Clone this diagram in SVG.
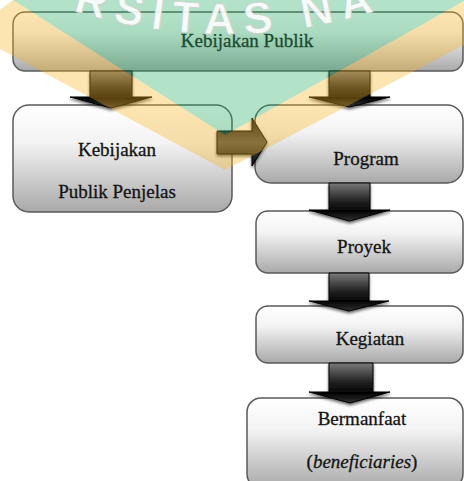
<svg xmlns="http://www.w3.org/2000/svg" width="464" height="481" viewBox="0 0 464 481">
<defs>
  <linearGradient id="boxGrad" x1="0" y1="0" x2="0" y2="1">
    <stop offset="0" stop-color="#ffffff"/>
    <stop offset="0.35" stop-color="#f3f3f3"/>
    <stop offset="1" stop-color="#a9a9a9"/>
  </linearGradient>
  <linearGradient id="arrowDown" x1="0" y1="0" x2="0" y2="1">
    <stop offset="0" stop-color="#7a7a7a"/>
    <stop offset="0.45" stop-color="#262626"/>
    <stop offset="0.75" stop-color="#030303"/>
    <stop offset="1" stop-color="#333333"/>
  </linearGradient>
  <linearGradient id="arrowSide" x1="0" y1="0" x2="0" y2="1">
    <stop offset="0" stop-color="#0e0e0e"/>
    <stop offset="0.5" stop-color="#505050"/>
    <stop offset="1" stop-color="#0a0a0a"/>
  </linearGradient>
  <filter id="shadow" x="-30%" y="-30%" width="160%" height="160%">
    <feGaussianBlur in="SourceAlpha" stdDeviation="1.5"/>
    <feOffset dx="0" dy="2" result="b"/>
    <feComponentTransfer><feFuncA type="linear" slope="0.6"/></feComponentTransfer>
    <feMerge><feMergeNode/><feMergeNode in="SourceGraphic"/></feMerge>
  </filter>
  <path id="wmArc" d="M 40,-1.5 A 500 500 0 0 0 420,-5.6"/>
</defs>
<style>
  .box { fill: url(#boxGrad); stroke: #5a5a5a; stroke-width: 1.5; }
  .lbl { font-family: "Liberation Serif", "Times New Roman", serif; font-size: 19px; fill: #141414; stroke: #141414; stroke-width: 0.3; text-anchor: middle; }
  .arr { fill: url(#arrowDown); stroke: #000; stroke-width: 1; filter: url(#shadow); }
  .arrh { fill: url(#arrowSide); stroke: #000; stroke-width: 1; filter: url(#shadow); }
  .wm { font-family: "Liberation Sans", Arial, sans-serif; font-size: 44px; font-weight: bold; letter-spacing: 9px; fill: #ffffff; fill-opacity: 0.88; stroke: #d0d0d0; stroke-width: 0.8; }
</style>

<g id="node-kebijakan-publik">
  <rect class="box" x="13" y="12" width="450" height="59" rx="12"/>
  <text class="lbl" x="247" y="47">Kebijakan Publik</text>
</g>
<g id="node-kebijakan-penjelas">
  <rect class="box" x="13" y="105" width="219" height="107" rx="16"/>
  <text class="lbl" x="117" y="156">Kebijakan</text>
  <text class="lbl" x="117" y="198">Publik Penjelas</text>
</g>
<g id="node-program">
  <rect class="box" x="255" y="105" width="208" height="78" rx="16"/>
  <text class="lbl" x="366" y="165">Program</text>
</g>
<g id="node-proyek">
  <rect class="box" x="256" y="211" width="207" height="62" rx="12"/>
  <text class="lbl" x="364" y="253">Proyek</text>
</g>
<g id="node-kegiatan">
  <rect class="box" x="256" y="306" width="207" height="57" rx="12"/>
  <text class="lbl" x="370" y="345">Kegiatan</text>
</g>
<g id="node-bermanfaat">
  <rect class="box" x="247" y="398" width="216" height="90" rx="14"/>
  <text class="lbl" x="362" y="425">Bermanfaat</text>
  <text class="lbl" x="362" y="468">(<tspan font-style="italic">beneficiaries</tspan>)</text>
</g>

<g id="connectors">
  <polygon class="arr" points="90,71 132,71 132,97 152,97 111,108 70,97 90,97"/>
  <polygon class="arr" points="329,71 370,71 370,97 390,97 349.5,107 309,97 329,97"/>
  <polygon class="arrh" points="217,131 252,131 252,118 267,142 252,166 252,154 217,154"/>
  <polygon class="arr" points="329,183 370,183 370,210 390,210 349.5,221 309,210 329,210"/>
  <polygon class="arr" points="329,273 369,273 369,301 389,301 349,311 309,301 329,301"/>
  <polygon class="arr" points="329,363 373,363 373,392 390,392 350,403 309,392 329,392"/>
</g>

<g id="watermark">
  <polygon points="0,10 13,0 225,135 464,1 464,45 225,170 0,49" fill="#f6b51d" fill-opacity="0.35"/>
  <polygon points="13,0 464,0 464,1 225,135" fill="#23ac62" fill-opacity="0.35"/>
  <text class="wm"><textPath href="#wmArc" startOffset="35">RSITAS NA</textPath></text>
</g>
</svg>
